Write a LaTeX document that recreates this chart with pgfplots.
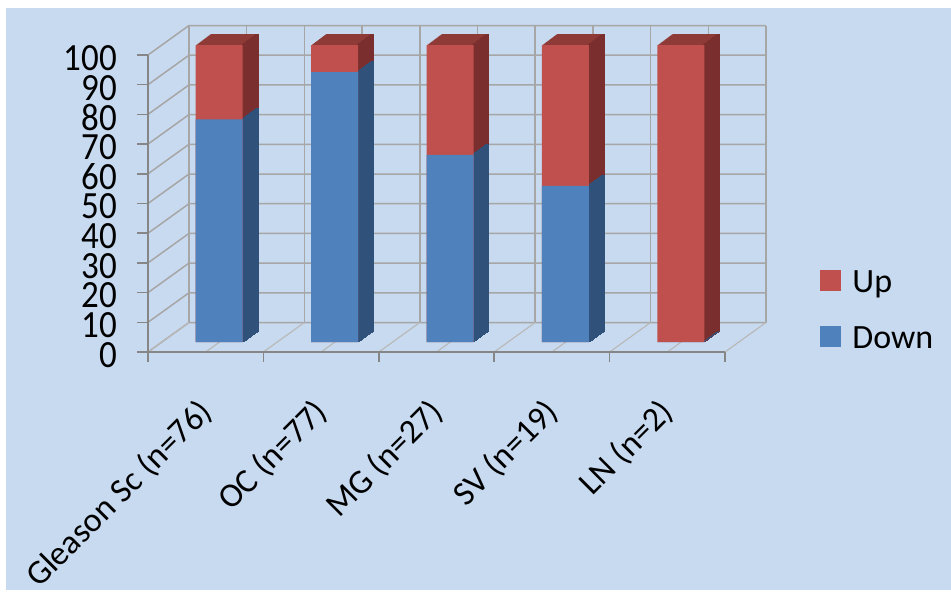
\documentclass[border=0pt]{standalone}
\usepackage{fontspec}
\setmainfont{Carlito}
\usepackage{pgfplots}
\usepackage{pgfplotstable}
\pgfplotsset{compat=1.18}
\definecolor{bg}{RGB}{200,218,240}
\definecolor{redf}{RGB}{192,80,77}
\definecolor{redt}{RGB}{142,58,55}
\definecolor{reds}{RGB}{122,46,45}
\definecolor{bluef}{RGB}{79,129,189}
\definecolor{blues}{RGB}{48,81,122}
\definecolor{gridc}{RGB}{166,166,166}
\definecolor{floorc}{RGB}{185,185,185}
\definecolor{axc}{RGB}{134,134,134}

\pgfplotstableread{
x down up
0.5 75.0 25.0
1.5 90.9 9.1
2.5 63.0 37.0
3.5 52.6 47.4
4.5 0 100
}\datatable

\begin{document}
\begin{tikzpicture}
\fill[white] (-148bp,-245bp) rectangle (803bp,352bp);
\fill[bg] (-142bp,-238bp) rectangle (803bp,344bp);
\useasboundingbox (-148bp,-245bp) rectangle (803bp,352bp);
\begin{axis}[
  anchor=origin, at={(0,0)},
  x=115.4bp, y=2.97bp,
  xmin=0, xmax=5, ymin=0, ymax=100,
  clip=false,
  axis line style={draw=none},
  major tick length=0pt,
  xtick={0.5,1.5,2.5,3.5,4.5},
  xticklabels={Gleason Sc (n=76), OC (n=77), MG (n=27), SV (n=19), LN (n=2)},
  ytick={0,10,...,100},
  tick label style={inner sep=0pt},
  /pgf/number format/assume math mode=true,
  yticklabel style={font=\fontsize{35bp}{40bp}\selectfont, anchor=east, xshift=-31bp, yshift=-3bp, yscale=1.1},
  xticklabel style={font=\fontsize{34bp}{40bp}\selectfont, anchor=east, xshift=1bp, yshift=-55bp, rotate=45},
  legend cell align=left,
  legend style={draw=none, fill=none, at={(1.1644,0.2828)}, anchor=north west,
    inner sep=0pt, font=\fontsize{34bp}{40bp}\selectfont, row sep=32bp,
    column sep=12bp, nodes={text height=24bp, text depth=0bp, inner sep=0pt}},
]
% 3D frame
\pgfplotsinvokeforeach{0,10,...,100}{
  \draw[gridc, line width=1.5bp] (axis cs:0,#1) -- (axis cs:0.355,{#1+9.93}) -- (axis cs:5.355,{#1+9.93});
  \draw[axc, line width=1.5bp] (axis cs:0,#1) -- ++(-11bp,0);
}
\pgfplotsinvokeforeach{0,...,10}{
  \draw[gridc, line width=1.5bp] (axis cs:{0.355+0.5*#1},9.93) -- (axis cs:{0.355+0.5*#1},109.93);
  \draw[floorc, line width=1.2bp] (axis cs:{0.5*#1},0) -- (axis cs:{0.5*#1+0.355},9.93);
}
\pgfplotsinvokeforeach{0,...,5}{
  \draw[axc, line width=1.5bp] (axis cs:#1,0) -- ++(0,-10bp);
}
\draw[axc, line width=1.5bp] (axis cs:0,100) -- (axis cs:0,0) -- (axis cs:5,0);

% extruded bars: red (top and side) copies, back to front
\pgfplotsinvokeforeach{15,14,...,1}{
  \addplot[forget plot, ybar, bar width=47bp, bar shift={13.5bp+#1*1bp}, yshift={10bp+#1*0.733bp}, fill=redt, draw=none]
    table[x=x, y expr=\thisrow{down}+\thisrow{up}]{\datatable};
  \addplot[forget plot, ybar, bar width=2bp, bar shift={36bp+#1*1bp}, yshift={10bp+#1*0.733bp}, fill=reds, draw=reds, line width=0.4bp]
    table[x=x, y expr=\thisrow{down}+\thisrow{up}]{\datatable};
}
% blue side strips
\pgfplotsinvokeforeach{15,14,...,1}{
  \addplot[forget plot, ybar, bar width=2bp, bar shift={36bp+#1*1bp}, yshift={10bp+#1*0.733bp}, fill=blues, draw=blues, line width=0.4bp]
    table[x=x, y=down]{\datatable};
}
% front faces
\addplot[forget plot, ybar, bar width=47bp, bar shift=13.5bp, yshift=10bp, fill=redf, draw=none]
  table[x=x, y expr=\thisrow{down}+\thisrow{up}]{\datatable};
\addplot[forget plot, ybar, bar width=47bp, bar shift=13.5bp, yshift=10bp, fill=bluef, draw=none]
  table[x=x, y=down]{\datatable};

\addlegendimage{legend image code/.code={\fill[redf] (0bp,-10bp) rectangle (20bp,10bp);}}
\addlegendentry{Up}
\addlegendimage{legend image code/.code={\fill[bluef] (0bp,-10bp) rectangle (20bp,10bp);}}
\addlegendentry{Down}
\end{axis}
\end{tikzpicture}
\end{document}
